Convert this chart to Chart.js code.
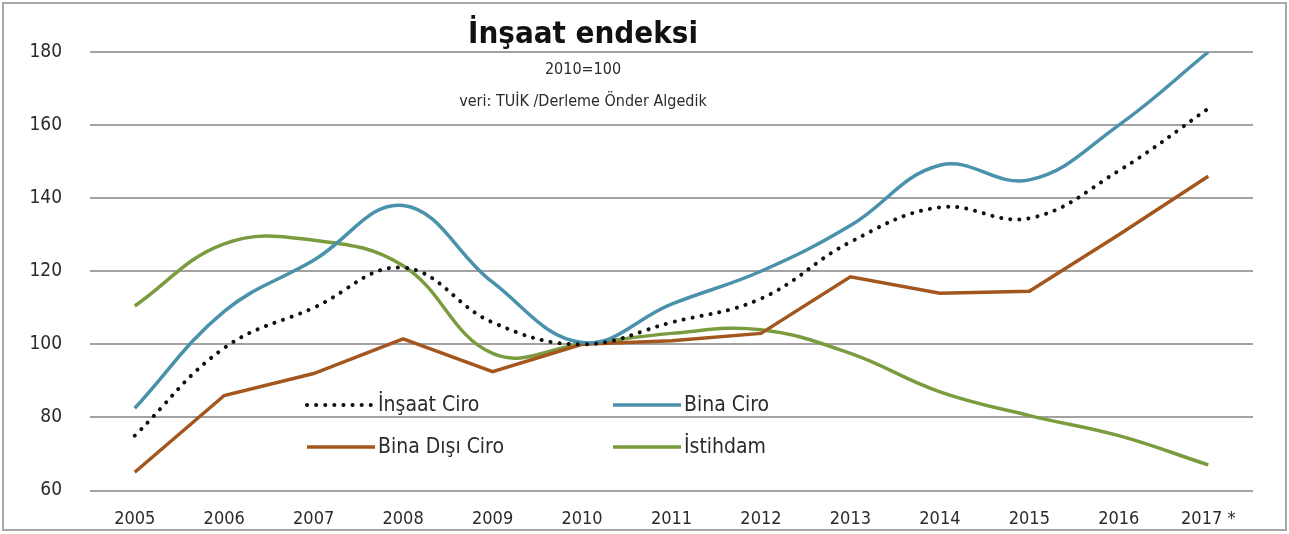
<!DOCTYPE html>
<html>
<head>
<meta charset="utf-8">
<script src="https://cdn.jsdelivr.net/npm/chart.js@4"></script>
<style>
  html, body { margin: 0; padding: 0; background: #fff; }
  #wrap { position: relative; width: 1289px; height: 534px; }
</style>
</head>
<body>
<div id="wrap"><canvas id="chart" width="1289" height="534"></canvas></div>
<script>
const years = ["2005", "2006", "2007", "2008", "2009", "2010", "2011", "2012", "2013", "2014", "2015", "2016", "2017 *"];
const insaatCiro = [75, 99, 110, 121, 106, 100, 106, 112.5, 128, 137.5, 134.5, 147.5, 164.5];
const binaCiro = [82.5, 109, 123, 138, 117, 100.5, 111, 120, 132.5, 149, 145, 160, 180];
const binaDisiCiro = [65, 86, 92, 101.5, 92.5, 100, 101, 103, 118.5, 114, 114.5, 130, 146];
const istihdam = [110.5, 127.5, 128.5, 121.5, 97.5, 100, 103, 104, 97.5, 87, 80.5, 75, 67];
const yTicks = [60, 80, 100, 120, 140, 160, 180];

const FONT = "'Liberation Sans Narrow', 'DejaVu Sans Condensed', 'Roboto Condensed', 'Liberation Sans', sans-serif";
const TEXT = "#2b2b2b";

// title, subtitle, frame and the in-plot legend
const decor = {
  id: "decor",
  afterDraw(chart) {
    const ctx = chart.ctx;
    ctx.save();
    ctx.strokeStyle = "#a8a8a8";
    ctx.lineWidth = 2;
    ctx.strokeRect(3, 3, 1283, 527);

    ctx.fillStyle = "#111";
    ctx.textAlign = "center";
    ctx.textBaseline = "alphabetic";
    ctx.font = "bold 31px " + FONT;
    ctx.fillText("İnşaat endeksi", 583, 43);
    ctx.fillStyle = TEXT;
    ctx.font = "16px " + FONT;
    ctx.textBaseline = "middle";
    ctx.fillText("2010=100", 583, 70);
    ctx.fillText("veri: TUİK /Derleme Önder Algedik", 583, 102);

    const cols = [305, 611];
    const rows = [405, 447];
    chart.data.datasets.forEach((ds, i) => {
      const x = cols[i % 2];
      const y = rows[Math.floor(i / 2)];
      ctx.beginPath();
      ctx.strokeStyle = ds.borderColor;
      ctx.lineWidth = ds.borderWidth;
      ctx.lineCap = ds.borderCapStyle || "butt";
      ctx.setLineDash(ds.borderDash || []);
      ctx.moveTo(x + 2, y);
      ctx.lineTo(x + 70, y);
      ctx.stroke();
      ctx.setLineDash([]);
      ctx.fillStyle = TEXT;
      ctx.font = "21px " + FONT;
      ctx.textAlign = "left";
      ctx.fillText(ds.label, x + 73, y + 1);
    });
    ctx.restore();
  }
};

new Chart("chart", {
  type: "line",
  data: {
    labels: years,
    datasets: [
      {
        label: "İnşaat Ciro",
        data: insaatCiro,
        borderColor: "#111111",
        borderWidth: 4,
        borderDash: [0.1, 9],
        borderCapStyle: "round",
        tension: 0.4,
        pointRadius: 0,
      },
      {
        label: "Bina Ciro",
        data: binaCiro,
        borderColor: "#4a91ab",
        borderWidth: 3.5,
        tension: 0.4,
        pointRadius: 0,
      },
      {
        label: "Bina Dışı Ciro",
        data: binaDisiCiro,
        borderColor: "#a4561f",
        borderWidth: 3.5,
        tension: 0,
        pointRadius: 0,
      },
      {
        label: "İstihdam",
        data: istihdam,
        borderColor: "#7b9c3e",
        borderWidth: 3.5,
        tension: 0.4,
        pointRadius: 0,
      },
    ],
  },
  options: {
    responsive: false,
    animation: false,
    layout: { padding: { left: 0, right: 36, top: 52, bottom: 0 } },
    plugins: {
      legend: { display: false },
      tooltip: { enabled: false },
    },
    scales: {
      x: {
        offset: true,
        grid: { display: false, drawTicks: false },
        border: { display: false },
        ticks: { color: TEXT, font: { family: FONT, size: 18 }, padding: 18, maxRotation: 0, autoSkip: false },
        afterFit: (scale) => { scale.height = 43.5; },
      },
      y: {
        min: 60,
        max: 180,
        afterBuildTicks: (scale) => { scale.ticks = yTicks.map((v) => ({ value: v })); },
        grid: { color: "#a2a2a2", lineWidth: 2, drawTicks: false },
        border: { display: false },
        ticks: { color: TEXT, font: { family: FONT, size: 19 }, padding: 28 },
        afterFit: (scale) => { scale.width = 90; },
      },
    },
  },
  plugins: [decor],
});
</script>
</body>
</html>
